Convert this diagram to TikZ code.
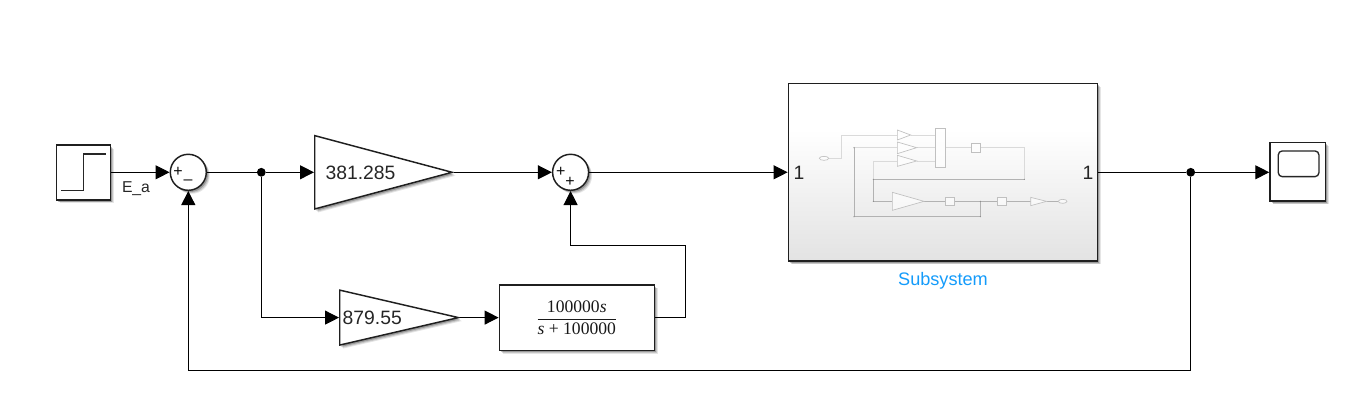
\documentclass[tikz,border=0pt]{standalone}
\usepackage{fontspec}
\setmainfont{Liberation Sans}
\newfontfamily\tffont{Liberation Serif}
\usetikzlibrary{arrows.meta,shapes.geometric,shadows}
\pgfdeclareverticalshading{subshade}{100bp}{color(0bp)=(black!16);color(12bp)=(black!15);color(62bp)=(white);color(100bp)=(white)}
\definecolor{subblue}{RGB}{20,155,250}
\definecolor{thumb}{RGB}{218,218,218}
\tikzset{
  softshadow/.style={
    drop shadow={shadow xshift=2.6pt,shadow yshift=-2.6pt,opacity=.10,fill=black},
    drop shadow={shadow xshift=2pt,shadow yshift=-2pt,opacity=.14,fill=black},
    drop shadow={shadow xshift=1.3pt,shadow yshift=-1.3pt,opacity=.22,fill=black}},
  blockbox/.style={draw=black!88,line width=1.1pt,fill=white,rectangle,inner sep=0pt,softshadow},
  sumbox/.style={draw=black!88,line width=1.1pt,fill=white,circle,inner sep=0pt,minimum size=27pt,softshadow},
  gainbox/.style={draw=black!88,line width=1.1pt,fill=white,isosceles triangle,isosceles triangle stretches,
     inner sep=0pt,anchor=lower side,softshadow},
  wire/.style={draw=black,line width=.75pt},
  arrowwire/.style={wire,-{Triangle[length=10.5pt,width=10.5pt]}},
  dotmark/.style={circle,fill=black,inner sep=0pt,minimum size=6.6pt},
  labeltext/.style={font=\fontsize{14.5}{16}\selectfont,text=black!85,inner sep=0pt},
  signtext/.style={font=\fontsize{12}{13}\selectfont,text=black!95,inner sep=0pt},
  thumbline/.style={draw=thumb,line width=.6pt},
  thumbwire/.style={draw=black!30,line width=.35pt},
  thumbblock/.style={draw=thumb!88!black,line width=.5pt,fill=white,fill opacity=.6},
}
\begin{document}
\begin{tikzpicture}[x=0.75pt,y=-0.75pt]
\useasboundingbox (0,0) rectangle (1357,409);

% main blocks
\node[blockbox,minimum width=40.5pt,minimum height=41pt] (step) at (83.3,172.5) {};
\node[sumbox] (sumA) at (188.3,172.3) {};
\node[gainbox,minimum height=103pt,minimum width=55pt] (gainA) at (314,172.3) {};
\node[sumbox] (sumB) at (570.6,172.3) {};
\node[blockbox,minimum width=232pt,minimum height=133pt,
      shade,shading=subshade] (sub) at (943,172.2) {};
\node[blockbox,minimum width=41.7pt,minimum height=43.7pt] (scope) at (1297.8,171.9) {};
\node[gainbox,minimum height=89pt,minimum width=41.2pt] (gainB) at (339,317.6) {};
\node[blockbox,minimum width=116.2pt,minimum height=49pt] (tf) at (576.8,317.6) {};

% step icon
\coordinate (s1) at (61,190.7);
\coordinate (s2) at (83.3,190.7);
\coordinate (s3) at (83.3,154);
\coordinate (s4) at (105.7,154);
\draw[black!85,line width=.8pt] (s1) -- (s2) -- (s3) -- (s4);

% scope icon
\node[draw=black!85,line width=1pt,rounded corners=3pt,rectangle,inner sep=0pt,
      minimum width=30.5pt,minimum height=19.3pt] (scopescreen) at (1298.6,163.8) {};

% texts
\node[labeltext] (gainAtext) at (360.5,172.5) {381.285};
\node[labeltext] (gainBtext) at (372.3,317.8) {879.55};
\node[labeltext] (inone) at (799,172.5) {1};
\node[labeltext] (outone) at (1088,172.5) {1};
\node[font=\fontsize{11.8}{13}\selectfont,text=black!85,inner sep=0pt,anchor=base] (ealabel) at (136,193) {E\_a};
\node[font=\fontsize{13.6}{15}\selectfont,text=subblue,inner sep=0pt,anchor=base] (sublabel) at (943,285.5) {Subsystem};
\node[signtext] (pA) at (178,172) {+};
\node[signtext] (mA) at (188,182.5) {–};
\node[signtext] (pB) at (560.7,172) {+};
\node[signtext] (qB) at (570,181.5) {+};
\node[inner sep=0pt,font=\fontsize{13.2}{15}\selectfont,text=black!90] (tftext) at (576.8,317.6)
  {$\displaystyle\frac{\hbox{\tffont 100000{\itshape s}}}{\hbox{\tffont {\itshape s} + 100000}}$};

% connectors
\node[dotmark] (jA) at (261.3,172.3) {};
\node[dotmark] (jB) at (1190.7,172.3) {};
\coordinate (tfturn1) at (685,317.6);
\coordinate (tfturn2) at (685,246);
\coordinate (tfturn3) at (570.6,246);
\coordinate (fb1) at (1190.7,371);
\coordinate (fb2) at (188.3,371);
\coordinate (gb) at (261.3,317.6);

\draw[arrowwire] (step.east |- sumA) -- (sumA.west);
\draw[wire] (sumA.east) -- (jA);
\draw[arrowwire] (jA) -- (gainA.lower side |- jA);
\draw[arrowwire] (gainA.apex) -- (sumB.west);
\draw[arrowwire] (sumB.east) -- (sub.west |- sumB);
\draw[wire] (sub.east |- jB) -- (jB);
\draw[arrowwire] (jB) -- (scope.west |- jB);
\draw[arrowwire] (jA) -- (gb) -- (gainB.lower side);
\draw[arrowwire] (gainB.apex) -- (tf.west);
\draw[arrowwire] (tf.east) -- (tfturn1) -- (tfturn2) -- (tfturn3) -- (sumB.south);
\draw[arrowwire] (jB) -- (fb1) -- (fb2) -- (sumA.south);

% subsystem thumbnail (coordinates in 3x crop pixels)
\begin{scope}[shift={(780,75)},x=0.25pt,y=-0.25pt]
  \coordinate (t1) at (146,250);
  \coordinate (t2) at (184,250);
  \coordinate (t3) at (184,180);
  \coordinate (fbr) at (733,218);
  \coordinate (fbd) at (733,313);
  \coordinate (fbl) at (280,313);
  \coordinate (fbu) at (280,258);
  \coordinate (fbb) at (280,379);
  \coordinate (lpa) at (222,218);
  \coordinate (lpb) at (222,425);
  \coordinate (lpc) at (601,425);
  \coordinate (lpd) at (601,379);
  \draw[thumbline] (t1) -- (t2) -- (t3) -- (352,180);
  \draw[thumbline] (392,180) -- (466,180);
  \draw[thumbline] (lpa) -- (352,218);
  \draw[thumbline] (410,218) -- (466,218);
  \draw[thumbline] (fbu) -- (352,258);
  \draw[thumbline] (410,258) -- (466,258);
  \draw[thumbline] (496,218) -- (574,218);
  \draw[thumbline] (601,218) -- (fbr) -- (fbd);
  \draw[thumbwire] (fbd) -- (fbl);
  \draw[thumbline] (fbu) -- (fbl);
  \draw[thumbwire] (fbl) -- (fbb) -- (337,379);
  \draw[thumbwire] (432,379) -- (496,379);
  \draw[thumbwire] (524,379) -- (652,379);
  \draw[thumbwire] (680,379) -- (752,379);
  \draw[thumbwire] (800,379) -- (835,379);
  \draw[thumbwire] (lpa) -- (lpb) -- (lpc) -- (lpd);
  % blocks
  \draw[thumbblock] (132,250) ellipse (14 and 6);
  \draw[thumbblock] (848,379) ellipse (13 and 6);
  \draw[thumbblock] (352,165) -- (352,195) -- (392,180) -- cycle;
  \draw[thumbblock] (352,201) -- (352,236) -- (410,218) -- cycle;
  \draw[thumbblock] (352,241) -- (352,274) -- (410,258) -- cycle;
  \draw[thumbblock] (466,160) rectangle (496,277);
  \draw[thumbblock] (574,205) rectangle (601,232);
  \draw[thumbblock] (337,352) -- (337,406) -- (432,379) -- cycle;
  \draw[thumbblock] (496,367) rectangle (524,392);
  \draw[thumbblock] (652,367) rectangle (680,392);
  \draw[thumbblock] (752,367) -- (752,392) -- (800,379) -- cycle;
  \foreach \p in {fbl,fbd,fbb,lpa,lpb,lpc,lpd}{\fill[black!45] (\p) circle (2);}
\end{scope}
\end{tikzpicture}
\end{document}
